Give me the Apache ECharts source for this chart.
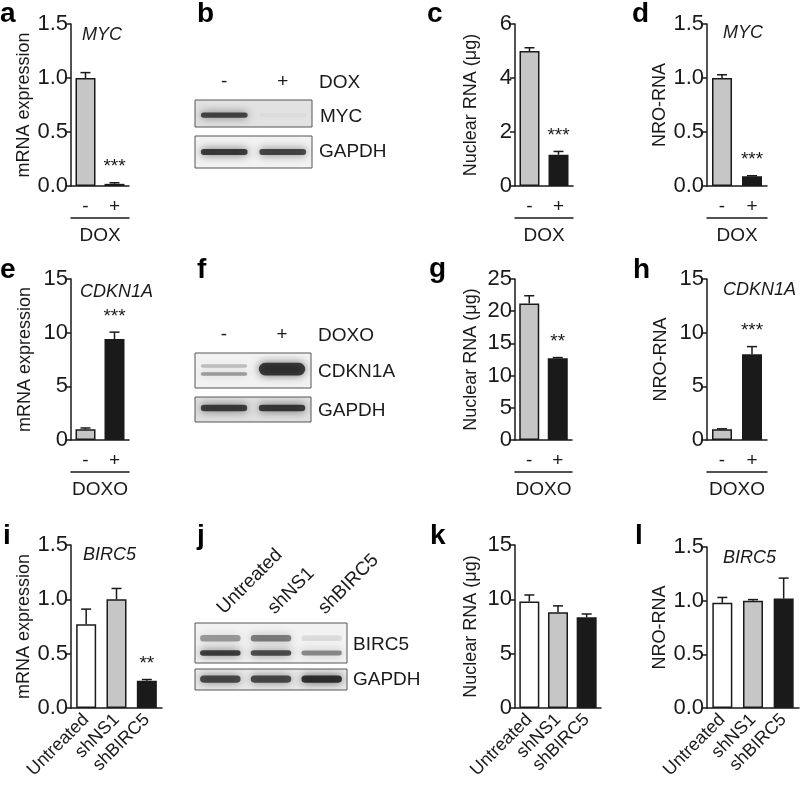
<!DOCTYPE html>
<html>
<head>
<meta charset="utf-8">
<script src="https://cdn.jsdelivr.net/npm/echarts@6/dist/echarts.min.js"></script>
<style>
  html, body { margin: 0; padding: 0; background: #fff; }
  #chart { width: 800px; height: 789px; }
</style>
</head>
<body>
<div id="chart"></div>
<script>
// categories
const doxLanes = ['-', '+'];
const shLanes = ['Untreated', 'shNS1', 'shBIRC5'];

// MYC (DOX) panels a, c, d
const mycMrna = [1.0, 0.02];
const mycMrnaErr = [0.05, 0.01];
const mycNuclear = [5.0, 1.16];
const mycNuclearErr = [0.12, 0.12];
const mycNro = [1.0, 0.09];
const mycNroErr = [0.03, 0.005];
const mycSig = ['', '***'];

// CDKN1A (DOXO) panels e, g, h
const cdkMrna = [1.0, 9.4];
const cdkMrnaErr = [0.12, 0.65];
const cdkNuclear = [21.2, 12.7];
const cdkNuclearErr = [1.2, 0.1];
const cdkNro = [1.0, 8.0];
const cdkNroErr = [0.04, 0.7];
const cdkSigMrna = ['', '***'];
const cdkSigNuclear = ['', '**'];
const cdkSigNro = ['', '***'];

// BIRC5 (shRNA) panels i, k, l
const bircMrna = [0.77, 1.0, 0.25];
const bircMrnaErr = [0.14, 0.1, 0.012];
const bircNuclear = [9.8, 8.8, 8.35];
const bircNuclearErr = [0.6, 0.6, 0.3];
const bircNro = [0.98, 1.0, 1.02];
const bircNroErr = [0.05, 0.01, 0.19];
const bircSig = ['', '', '**'];

// western blot bands: [lane, centre (0 bottom .. 1 top), thickness, darkness]
const blotMyc = [[0, 0.44, 0.2, 0.75], [1, 0.44, 0.15, 0.03]];
const blotMycGapdh = [[0, 0.5, 0.18, 0.8], [1, 0.5, 0.18, 0.75]];
const blotCdk = [[0, 0.63, 0.1, 0.22], [0, 0.4, 0.1, 0.38], [1, 0.54, 0.36, 0.8]];
const blotCdkGapdh = [[0, 0.56, 0.26, 0.78], [1, 0.56, 0.26, 0.8]];
const blotBirc = [[0, 0.62, 0.16, 0.38], [0, 0.25, 0.14, 0.8], [1, 0.62, 0.16, 0.5],
                  [1, 0.25, 0.14, 0.72], [2, 0.62, 0.14, 0.1], [2, 0.25, 0.12, 0.45]];
const blotBircGapdh = [[0, 0.52, 0.34, 0.72], [1, 0.52, 0.34, 0.72], [2, 0.52, 0.34, 0.85]];

const INK = '#1a1a1a';
const GREY = '#c6c6c6';
const FONT = '"Liberation Sans", Arial, sans-serif';

const grids = [], xAxes = [], yAxes = [], series = [], titles = [];

function label(text, left, top, size, extra) {
  titles.push({
    text, left, top, padding: 0,
    textStyle: Object.assign({ fontFamily: FONT, fontSize: size, color: INK, fontWeight: 'normal' }, extra || {})
  });
}

function errorBar(sig) {
  return function (params, api) {
    const i = api.value(0);
    const base = api.coord([i, api.value(1)]);
    const top = api.coord([i, api.value(1) + api.value(2)]);
    const kids = [
      { type: 'line', shape: { x1: base[0], y1: base[1], x2: top[0], y2: top[1] }, style: { stroke: INK, lineWidth: 1.5 } },
      { type: 'line', shape: { x1: top[0] - 5, y1: top[1], x2: top[0] + 5, y2: top[1] }, style: { stroke: INK, lineWidth: 1.5 } }
    ];
    if (sig && sig[i]) {
      kids.push({ type: 'text', x: top[0], y: top[1] - 6,
        style: { text: sig[i], align: 'center', verticalAlign: 'bottom', fontFamily: FONT, fontSize: 19, fill: INK } });
    }
    return { type: 'group', children: kids };
  };
}

function barPanel(p) {
  const gi = grids.length;
  grids.push({ left: p.left, top: p.top, width: p.width, height: p.height });
  const xi = xAxes.length;
  const rotated = p.cats.length > 2;
  xAxes.push({
    gridIndex: gi, type: 'category', data: p.cats,
    axisLine: { lineStyle: { color: INK, width: 1.5 } },
    axisTick: { alignWithLabel: true, length: 7, lineStyle: { color: INK, width: 1.5 } },
    axisLabel: { interval: 0, rotate: rotated ? 45 : 0, margin: rotated ? 9 : 11, fontFamily: FONT,
      fontSize: rotated ? 18 : 19, color: INK }
  });
  if (p.group) {
    xAxes.push({
      gridIndex: gi, type: 'category', data: p.cats, position: 'bottom', offset: 32,
      axisLine: { lineStyle: { color: INK, width: 1.5 } },
      axisTick: { show: false }, axisLabel: { show: false },
      name: p.group, nameLocation: 'middle', nameGap: 8,
      nameTextStyle: { fontFamily: FONT, fontSize: 19, color: INK }
    });
  }
  yAxes.push({
    gridIndex: gi, type: 'value', min: 0, max: p.max, interval: p.step,
    name: p.yName, nameLocation: 'middle', nameGap: p.nameGap,
    nameTextStyle: { fontFamily: FONT, fontSize: 18, color: INK },
    axisLine: { show: true, lineStyle: { color: INK, width: 1.5 } },
    axisTick: { show: true, length: 5, lineStyle: { color: INK, width: 1.5 } },
    splitLine: { show: false },
    axisLabel: { margin: 3, fontFamily: FONT, fontSize: 22, color: INK,
      formatter: v => p.step < 1 ? v.toFixed(1) : String(v) }
  });
  series.push({
    type: 'bar', xAxisIndex: xi, yAxisIndex: gi, barWidth: 20,
    data: p.values.map((v, i) => ({ value: v, itemStyle: { color: p.colors[i] } })),
    itemStyle: { borderColor: INK, borderWidth: 1.5 }, z: 2
  });
  series.push({
    type: 'custom', xAxisIndex: xi, yAxisIndex: gi, z: 3, clip: false,
    encode: { x: 0, y: 1 },
    data: p.values.map((v, i) => [i, v, p.err[i]]),
    renderItem: errorBar(p.sig)
  });
}

function bandShape(params, api) {
  const c = api.coord([api.value(0), api.value(1)]);
  const laneW = api.size([1, 0])[0];
  const h = api.size([0, api.value(2)])[1];
  const w = laneW * 0.8;
  const ink = 'rgba(25,25,25,' + api.value(3) + ')';
  return { type: 'rect', shape: { x: c[0] - w / 2, y: c[1] - h / 2, width: w, height: h, r: h / 2 },
    style: { fill: ink, shadowBlur: 9, shadowColor: ink } };
}

function blot(b) {
  const gi = grids.length;
  grids.push({ left: b.left, top: b.top, width: b.width, height: b.height, show: true,
    backgroundColor: b.bg, borderColor: '#555', borderWidth: 1 });
  const xi = xAxes.length;
  const rotated = b.lanes.length > 2;
  xAxes.push({
    gridIndex: gi, type: 'category', data: b.lanes, position: 'top',
    axisLine: { show: false }, axisTick: { show: false },
    axisLabel: { show: !!b.showLanes, interval: 0, rotate: rotated ? 45 : 0, margin: rotated ? 12 : 9,
      fontFamily: FONT, fontSize: 19, color: INK }
  });
  yAxes.push({ gridIndex: gi, type: 'value', min: 0, max: 1, show: false });
  series.push({ type: 'custom', xAxisIndex: xi, yAxisIndex: gi, clip: true,
    data: b.bands, renderItem: bandShape });
}

// row 1
barPanel({ left: 71, top: 24, width: 58, height: 162, max: 1.5, step: 0.5, yName: 'mRNA expression', nameGap: 37,
  cats: doxLanes, group: 'DOX', values: mycMrna, err: mycMrnaErr, sig: mycSig, colors: [GREY, INK] });
barPanel({ left: 515, top: 24, width: 58, height: 162, max: 6, step: 2, yName: 'Nuclear RNA (\u03bcg)', nameGap: 35,
  cats: doxLanes, group: 'DOX', values: mycNuclear, err: mycNuclearErr, sig: mycSig, colors: [GREY, INK] });
barPanel({ left: 707, top: 24, width: 60, height: 162, max: 1.5, step: 0.5, yName: 'NRO-RNA', nameGap: 37,
  cats: doxLanes, group: 'DOX', values: mycNro, err: mycNroErr, sig: mycSig, colors: [GREY, INK] });
blot({ left: 195, top: 100, width: 117, height: 27, bg: '#e2e2e2', lanes: doxLanes, showLanes: true, bands: blotMyc });
blot({ left: 195, top: 136, width: 117, height: 32, bg: '#f2f2f2', lanes: doxLanes, bands: blotMycGapdh });

// row 2
barPanel({ left: 71, top: 279, width: 58, height: 161, max: 15, step: 5, yName: 'mRNA expression', nameGap: 37,
  cats: doxLanes, group: 'DOXO', values: cdkMrna, err: cdkMrnaErr, sig: cdkSigMrna, colors: [GREY, INK] });
barPanel({ left: 515, top: 279, width: 57, height: 161, max: 25, step: 5, yName: 'Nuclear RNA (\u03bcg)', nameGap: 35,
  cats: doxLanes, group: 'DOXO', values: cdkNuclear, err: cdkNuclearErr, sig: cdkSigNuclear, colors: [GREY, INK] });
barPanel({ left: 707, top: 279, width: 60, height: 161, max: 15, step: 5, yName: 'NRO-RNA', nameGap: 37,
  cats: doxLanes, group: 'DOXO', values: cdkNro, err: cdkNroErr, sig: cdkSigNro, colors: [GREY, INK] });
blot({ left: 195, top: 353, width: 116, height: 35, bg: '#f2f2f2', lanes: doxLanes, showLanes: true, bands: blotCdk });
blot({ left: 195, top: 397, width: 116, height: 25, bg: '#e0e0e0', lanes: doxLanes, bands: blotCdkGapdh });

// row 3
barPanel({ left: 71, top: 545, width: 91, height: 163, max: 1.5, step: 0.5, yName: 'mRNA expression', nameGap: 37,
  cats: shLanes, values: bircMrna, err: bircMrnaErr, sig: bircSig, colors: ['#fff', GREY, INK] });
barPanel({ left: 515, top: 545, width: 86, height: 163, max: 15, step: 5, yName: 'Nuclear RNA (\u03bcg)', nameGap: 35,
  cats: shLanes, values: bircNuclear, err: bircNuclearErr, colors: ['#fff', GREY, INK] });
barPanel({ left: 707, top: 547, width: 92, height: 161, max: 1.5, step: 0.5, yName: 'NRO-RNA', nameGap: 37,
  cats: shLanes, values: bircNro, err: bircNroErr, colors: ['#fff', GREY, INK] });
blot({ left: 195, top: 623, width: 152, height: 40, bg: '#f2f2f2', lanes: shLanes, showLanes: true, bands: blotBirc });
blot({ left: 195, top: 669, width: 152, height: 21, bg: '#eaeaea', lanes: shLanes, bands: blotBircGapdh });

// panel letters
[['a', 0, 0], ['b', 197, 0], ['c', 427, 0], ['d', 632, 0],
 ['e', 0, 256], ['f', 197, 256], ['g', 429, 255], ['h', 633, 256],
 ['i', 3, 522], ['j', 197, 522], ['k', 430, 522], ['l', 635, 522]]
  .forEach(([t, x, y]) => label(t, x, y, 28, { fontWeight: 'bold', color: '#000' }));

// gene names
label('MYC', 82, 26, 18, { fontStyle: 'italic' });
label('MYC', 723, 24, 18, { fontStyle: 'italic' });
label('CDKN1A', 80, 283, 18, { fontStyle: 'italic' });
label('CDKN1A', 723, 281, 18, { fontStyle: 'italic' });
label('BIRC5', 83, 546, 18, { fontStyle: 'italic' });
label('BIRC5', 723, 549, 18, { fontStyle: 'italic' });

// blot side labels
label('DOX', 319, 73, 19);
label('MYC', 320, 107, 19);
label('GAPDH', 319, 142, 19);
label('DOXO', 318, 326, 19);
label('CDKN1A', 318, 362, 19);
label('GAPDH', 318, 401, 19);
label('BIRC5', 353, 635, 19);
label('GAPDH', 353, 670, 19);

const chart = echarts.init(document.getElementById('chart'), null, { renderer: 'canvas' });
chart.setOption({
  backgroundColor: '#fff',
  animation: false,
  title: titles,
  grid: grids,
  xAxis: xAxes,
  yAxis: yAxes,
  series: series
});
window.addEventListener('resize', () => chart.resize());
</script>
</body>
</html>
